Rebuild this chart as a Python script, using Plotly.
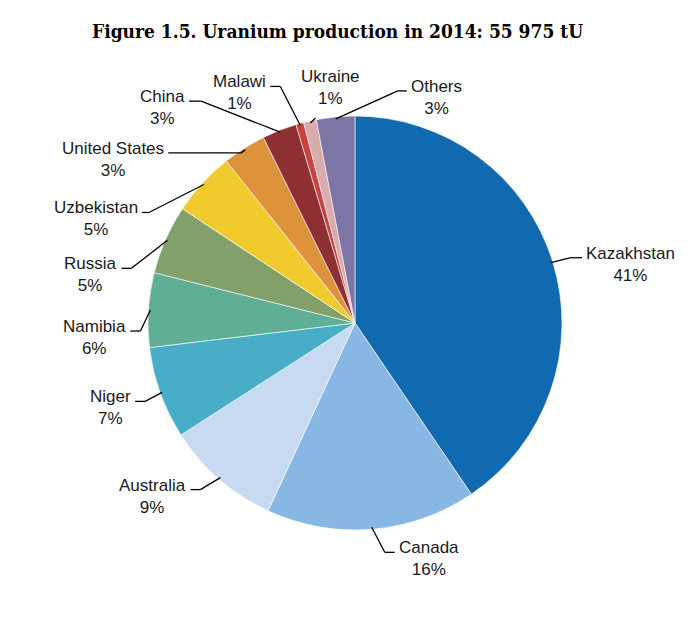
import math
import plotly.graph_objects as go

# ---------------- data ----------------
countries = ["Kazakhstan", "Canada", "Australia", "Niger", "Namibia", "Russia",
             "Uzbekistan", "United States", "China", "Malawi", "Ukraine", "Others"]
production_tU = [22670, 9180, 5040, 4030, 3250, 3020, 2800, 1900, 1510, 340, 560, 1675]
share_labels = ["41%", "16%", "9%", "7%", "6%", "5%", "5%", "3%", "3%", "1%", "1%", "3%"]
colors = ["#1169b0", "#87b7e2", "#c8daf1", "#48adc6", "#5fae96", "#82a06a",
          "#f1ca2e", "#de923b", "#8e3033", "#c9423e", "#d9abad", "#7d75a6"]

# ---------------- layout / style ----------------
W, H = 698, 623
CX, CY, R = 355, 323, 207          # pie centre and radius in pixels
FONT = "Liberation Sans, Arial, sans-serif"
FS = 17
# leader-line elbow offsets from the rim point (px), tail length, label side
elbow = [(20, -5), (13, 25), (-20, 12), (-17, 9), (-10, 21), (-36, 28),
         (-55, 28), (-4, 3), (-79, -31), (-20, -39), (5, -5), (62, -28)]
tail = [11, 10, 10, 10, 10, 10, 7, 73, 12, 10, 0, 9]
side = ["right", "right", "left", "left", "left", "left",
        "left", "left", "left", "left", "top", "right"]


def px(x):
    return x / W


def py(y):
    return 1 - y / H


fig = go.Figure(go.Pie(
    labels=countries, values=production_tU, sort=False, direction="clockwise",
    rotation=0, marker=dict(colors=colors, line=dict(color="white", width=0.6)),
    textinfo="none", hoverinfo="label+value+percent", showlegend=False,
    domain=dict(x=[px(CX - R), px(CX + R)], y=[py(CY + R), py(CY - R)]),
))

total = sum(production_tU)
shapes, annotations = [], []
cum = 0
for i, v in enumerate(production_tU):
    mid = (cum + v / 2) / total * 2 * math.pi
    cum += v
    rx = CX + (R - 2) * math.sin(mid)
    ry = CY - (R - 2) * math.cos(mid)
    ex, ey = rx + elbow[i][0], ry + elbow[i][1]
    line = dict(type="line", xref="paper", yref="paper",
                line=dict(color="black", width=1.3))
    shapes.append(dict(line, x0=px(rx), y0=py(ry), x1=px(ex), y1=py(ey)))
    text = f"{countries[i]}<br>{share_labels[i]}"
    if side[i] == "top":
        annotations.append(dict(x=px(ex + 15), y=py(ey - 8), xref="paper", yref="paper",
                                text=text, showarrow=False, xanchor="center",
                                yanchor="bottom", align="center"))
        continue
    sgn = 1 if side[i] == "right" else -1
    tx = ex + sgn * tail[i]
    shapes.append(dict(line, x0=px(ex), y0=py(ey), x1=px(tx), y1=py(ey)))
    annotations.append(dict(x=px(tx + sgn * 2), y=py(ey - 16), xref="paper", yref="paper",
                            text=text, showarrow=False,
                            xanchor="left" if sgn > 0 else "right",
                            yanchor="top", align="center"))

annotations.append(dict(
    x=px(337), y=py(31), xref="paper", yref="paper", showarrow=False,
    text="<b>Figure 1.5. Uranium production in 2014: 55 975 tU</b>",
    font=dict(family="DejaVu Serif Condensed, DejaVu Serif, serif", size=19, color="black"),
    xanchor="center", yanchor="middle"))

fig.update_layout(
    width=W, height=H, margin=dict(l=0, r=0, t=0, b=0),
    paper_bgcolor="white", plot_bgcolor="white",
    font=dict(family=FONT, size=FS, color="#1a1a1a"),
    shapes=shapes, annotations=annotations,
)

fig.write_html("out.html")
